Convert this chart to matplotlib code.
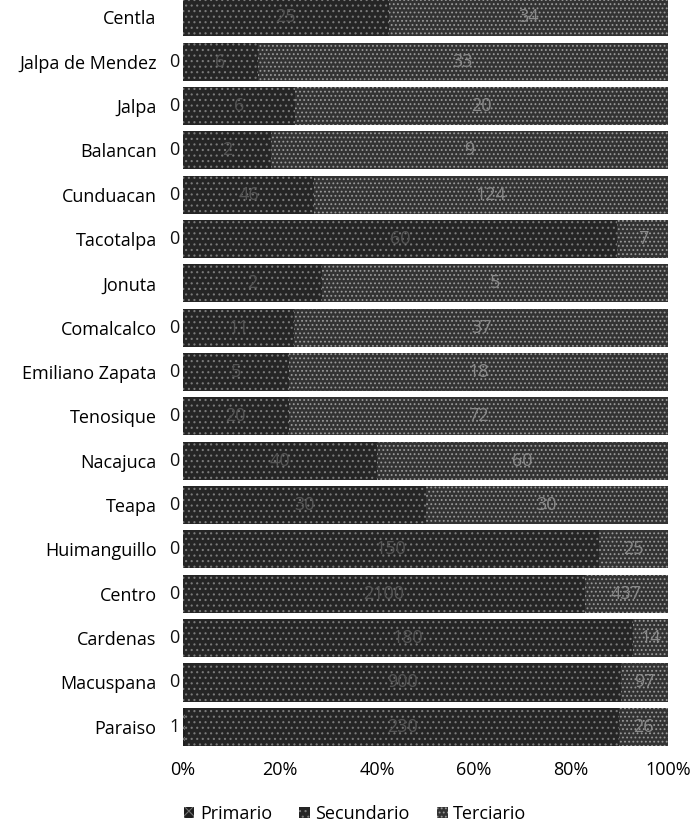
import matplotlib.pyplot as plt
import numpy as np

plt.rcParams['font.family'] = ['Open Sans', 'DejaVu Sans']
plt.rcParams['hatch.linewidth'] = 0.8

# municipios, top to bottom
municipios = ['Centla', 'Jalpa de Mendez', 'Jalpa', 'Balancan', 'Cunduacan',
              'Tacotalpa', 'Jonuta', 'Comalcalco', 'Emiliano Zapata', 'Tenosique',
              'Nacajuca', 'Teapa', 'Huimanguillo', 'Centro', 'Cardenas',
              'Macuspana', 'Paraiso']
# None = no primary label shown
primario = [None, 0, 0, 0, 0, 0, None, 0, 0, 0, 0, 0, 0, 0, 0, 0, 1]
secundario = [25, 6, 6, 2, 46, 60, 2, 11, 5, 20, 40, 30, 150, 2100, 180, 900, 230]
terciario = [34, 33, 20, 9, 124, 7, 5, 37, 18, 72, 60, 30, 25, 437, 14, 97, 26]
series = ['Primario', 'Secundario', 'Terciario']

colores = ['#1e1e1e', '#252525', '#333333']
tramas = ['xxx', '...', '....']
color_trama = ['#707070', '#7a7a7a', '#9a9a9a']

p = np.array([0 if v is None else v for v in primario], dtype=float)
s = np.array(secundario, dtype=float)
t = np.array(terciario, dtype=float)
tot = p + s + t
pf, sf, tf = p / tot, s / tot, t / tot

fig = plt.figure(figsize=(6.96, 8.32), dpi=100)
ax = fig.add_axes([0.263, 0.0998, 0.697, 0.906])

y = np.arange(len(municipios))
h = 0.86
lefts = [np.zeros(len(y)), pf, pf + sf]
for k, (w, name) in enumerate(zip([pf, sf, tf], series)):
    ax.barh(y, w, left=lefts[k], height=h, color=colores[k],
            edgecolor=color_trama[k], linewidth=0, hatch=tramas[k], label=name)

# data labels
for i in range(len(y)):
    if primario[i] is not None:
        ax.text(-0.008, y[i], str(primario[i]), ha='right', va='center',
                fontsize=13, color='#111111')
    ax.text(pf[i] + sf[i] / 2, y[i], str(secundario[i]), ha='center',
            va='center', fontsize=13, color='#555555')
    ax.text(pf[i] + sf[i] + tf[i] / 2, y[i], str(terciario[i]), ha='center',
            va='center', fontsize=13, color='#8a8a8a')

ax.set_xlim(0, 1)
ax.set_ylim(len(y) - 0.5, -0.5)
ax.set_yticks(y)
ax.set_yticklabels(municipios, fontsize=13)
ax.set_xticks(np.linspace(0, 1, 6))
ax.set_xticklabels(['0%', '20%', '40%', '60%', '80%', '100%'], fontsize=13)
ax.tick_params(length=0)
ax.tick_params(axis='x', pad=9)
ax.tick_params(axis='y', pad=19)
for sp in ax.spines.values():
    sp.set_visible(False)

leg = fig.legend(loc='center', bbox_to_anchor=(0.51, 0.022), ncol=3,
                 frameon=False, fontsize=13, handlelength=0.6, handleheight=0.6,
                 handletextpad=0.3, columnspacing=1.5)

fig.savefig('out.png', dpi=100)
